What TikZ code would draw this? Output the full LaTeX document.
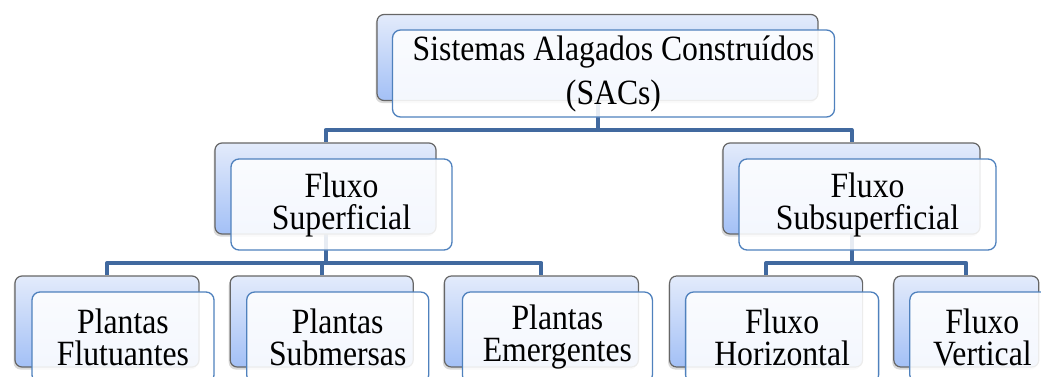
\documentclass[tikz,border=0pt]{standalone}
\usepackage{graphicx}
\usepackage{fontspec}
\setmainfont{Liberation Serif}
\usetikzlibrary{positioning,calc,shadows,backgrounds}
\definecolor{linkblue}{HTML}{41699F}
\definecolor{boxtop}{HTML}{E3EBFB}
\definecolor{boxbot}{HTML}{A3C0F6}
\definecolor{boxgray}{HTML}{666666}
\definecolor{frameblue}{HTML}{4F81BD}
\newcommand\tall[1]{\scalebox{1}[1.12]{#1}}
\tikzset{
  backbox/.style={draw=boxgray, line width=1.2pt, rounded corners=7pt,
    top color=boxtop, bottom color=boxbot, minimum height=91pt, inner sep=0pt,
    drop shadow={shadow xshift=-1.5pt,shadow yshift=-2.5pt,opacity=.3}},
  frontbox/.style={draw=frameblue, line width=1.3pt, rounded corners=8pt,
    fill=white, fill opacity=.88, text opacity=1, minimum height=91pt,
    align=center, inner sep=0pt, font=\fontsize{31.7}{32}\selectfont},
  link/.style={draw=linkblue, line width=4pt, line join=round}
}

\begin{document}
\begin{tikzpicture}[x=1pt,y=1pt]
\useasboundingbox (0,0) rectangle (1041,376);
\clip (0,0) rectangle (1041,376);
\coordinate (bar1) at (0,246);
\coordinate (bar2) at (0,113);
% back boxes
\node[backbox, minimum width=441pt, minimum height=86pt] (sacB) at (597.5,318.5) {};
\node[backbox, minimum width=221pt] (supB) at (325.5,187.5) {};
\node[backbox, minimum width=257pt] (subB) at (851.5,187.5) {};
\node[backbox, minimum width=184pt] (fluB) at (107,54.5) {};
\node[backbox, minimum width=183pt, right=30pt of fluB] (sbmB) {};
\node[backbox, minimum width=194pt, right=30pt of sbmB] (emeB) {};
\node[backbox, minimum width=193pt, right=30pt of emeB] (horB) {};
\node[backbox, minimum width=145pt, right=30pt of horB] (verB) {};
% connectors
\begin{pgfonlayer}{background}
\draw[link] (sacB.center) -- (sacB.center |- bar1) -| (supB.north);
\draw[link] (sacB.center |- bar1) -| (subB.north);
\draw[link] (supB.center) -- (supB.center |- bar2) -| (fluB.north);
\draw[link] (supB.center |- bar2) -| (sbmB.north);
\draw[link] (supB.center |- bar2) -| (emeB.north);
\draw[link] (subB.center) -- (subB.center |- bar2) -| (horB.north);
\draw[link] (subB.center |- bar2) -| (verB.north);
\end{pgfonlayer}
% front boxes
\node[frontbox, minimum width=442pt, minimum height=87pt, font=\fontsize{31.7}{44}\selectfont]
  (sac) at ([shift={(16,-16)}]sacB.center) {\tall{Sistemas Alagados Construídos}\\\tall{(SACs)}};
\node[frontbox, minimum width=221pt] (sup) at ([shift={(16,-16)}]supB.center) {\tall{Fluxo}\\\tall{Superficial}};
\node[frontbox, minimum width=257pt] (sub) at ([shift={(16,-16)}]subB.center) {\tall{Fluxo}\\\tall{Subsuperficial}};
\node[frontbox, minimum width=182pt] (flu) at ([shift={(16,-16)}]fluB.center) {\tall{Plantas}\\\tall{Flutuantes}};
\node[frontbox, minimum width=182pt] (sbm) at ([shift={(16,-16)}]sbmB.center) {\tall{Plantas}\\\tall{Submersas}};
\node[frontbox, minimum width=190pt] (eme) at ([shift={(16,-16)}]emeB.center) {\tall{Plantas}\\\tall{Emergentes}};
\node[frontbox, minimum width=193pt] (hor) at ([shift={(16,-16)}]horB.center) {\tall{Fluxo}\\\tall{Horizontal}};
\node[frontbox, minimum width=145pt] (ver) at ([shift={(16,-16)}]verB.center) {\tall{Fluxo}\\\tall{Vertical}};
\end{tikzpicture}
\end{document}
